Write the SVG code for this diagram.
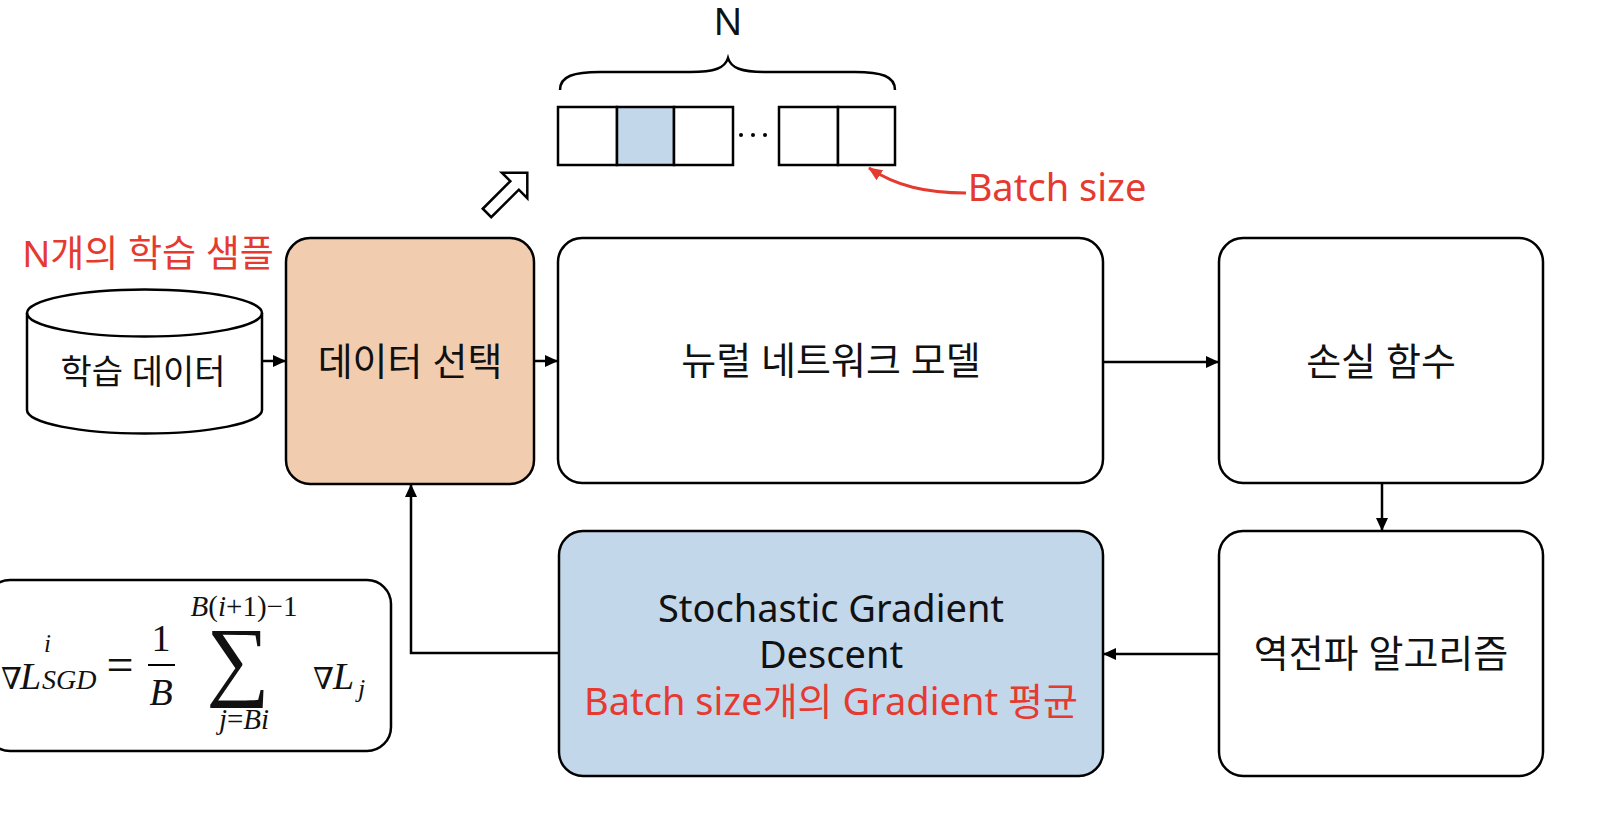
<svg xmlns="http://www.w3.org/2000/svg" width="1602" height="818" viewBox="0 0 1602 818">
<style>
.box{stroke:#000;stroke-width:2.5}
.cell{stroke:#000;stroke-width:2.5;fill:#fff}
.lbl{font-family:"Noto Sans","Noto Sans CJK KR",sans-serif;font-size:38px;text-anchor:middle;fill:#111}
.red{fill:#E53A30}
.conn{stroke:#000;stroke-width:2.5;fill:none}
.math{font-family:"Liberation Serif","DejaVu Serif",serif;fill:#111}
.it{font-style:italic}
</style>
<defs>
<marker id="ah" markerUnits="userSpaceOnUse" markerWidth="13" markerHeight="12" refX="13" refY="6" orient="auto">
<path d="M0,0 L13,6 L0,12 z" fill="#000"/>
</marker>
<marker id="ahr" markerUnits="userSpaceOnUse" markerWidth="14" markerHeight="12" refX="13" refY="6" orient="auto">
<path d="M0,0 L14,6 L0,12 z" fill="#E53A30"/>
</marker>
</defs>
<rect width="1602" height="818" fill="#fff"/>

<g id="batch-array">
<text class="lbl" x="728" y="35">N</text>
<path class="conn" d="M560,90 C560,76 574,72 600,72 L690,72 C715,72 725,68 728,58 C731,68 741,72 766,72 L855,72 C881,72 895,76 895,90"/>
<rect class="cell" x="558" y="107" width="59" height="58"/>
<rect class="cell" x="617" y="107" width="57" height="58" style="fill:#C3D7EB"/>
<rect class="cell" x="674" y="107" width="59" height="58"/>
<circle cx="741" cy="135" r="2" fill="#000"/>
<circle cx="753" cy="135" r="2" fill="#000"/>
<circle cx="765" cy="135" r="2" fill="#000"/>
<rect class="cell" x="779" y="107" width="59" height="58"/>
<rect class="cell" x="838" y="107" width="57" height="58"/>
<polygon points="0,-6 39,-6 39,-18 57,0 39,18 39,6 0,6" transform="translate(487,213) rotate(-45)" fill="#fff" stroke="#000" stroke-width="2.5" stroke-linejoin="miter"/>
<text class="lbl red" x="1057" y="201">Batch size</text>
</g>

<g id="training-data">
<text class="lbl red" x="148" y="267" style="font-size:37px">N개의 학습 샘플</text>
<path class="box" fill="#fff" d="M27,313 L27,410 A117.5,23.5 0 0 0 262,410 L262,313 A117.5,23.5 0 0 0 27,313 Z"/>
<path class="conn" d="M27,313 A117.5,23.5 0 0 0 262,313"/>
<text class="lbl" x="143" y="384" style="font-size:34px">학습 데이터</text>
</g>

<g id="data-select">
<rect class="box" x="286" y="238" width="248" height="246" rx="24" fill="#F1CCAF"/>
<text class="lbl" x="410" y="375">데이터 선택</text>
</g>

<g id="neural-net">
<rect class="box" x="558" y="238" width="545" height="245" rx="24" fill="#fff"/>
<text class="lbl" x="831" y="374">뉴럴 네트워크 모델</text>
</g>

<g id="loss">
<rect class="box" x="1219" y="238" width="324" height="245" rx="24" fill="#fff"/>
<text class="lbl" x="1381" y="375">손실 함수</text>
</g>

<g id="backprop">
<rect class="box" x="1219" y="531" width="324" height="245" rx="24" fill="#fff"/>
<text class="lbl" x="1381" y="667">역전파 알고리즘</text>
</g>

<g id="sgd">
<rect class="box" x="559" y="531" width="544" height="245" rx="24" fill="#C3D7EB"/>
<text class="lbl" x="831" y="622">Stochastic Gradient</text>
<text class="lbl" x="831" y="668">Descent</text>
<text class="lbl red" x="831" y="715">Batch size개의 Gradient 평균</text>
</g>

<g id="formula">
<rect class="box" x="-14" y="580" width="405" height="171" rx="24" fill="#fff"/>
<text class="math" x="1" y="689" style="font-size:30px">∇</text>
<text class="math it" x="20" y="689" style="font-size:38px">L</text>
<text class="math it" x="44" y="652" style="font-size:25px">i</text>
<text class="math it" x="42" y="689" style="font-size:28px">SGD</text>
<text class="math" x="120" y="681" style="font-size:48px" text-anchor="middle">=</text>
<text class="math" x="161" y="651" style="font-size:38px" text-anchor="middle">1</text>
<line x1="148" y1="665" x2="175" y2="665" stroke="#000" stroke-width="2"/>
<text class="math it" x="161" y="705" style="font-size:38px" text-anchor="middle">B</text>
<text class="math" x="238" y="689" style="font-size:89px" text-anchor="middle">∑</text>
<text class="math" x="244" y="616" style="font-size:29px" text-anchor="middle"><tspan class="it">B</tspan>(<tspan class="it">i</tspan>+1)−1</text>
<text class="math" x="244" y="729" style="font-size:29px" text-anchor="middle"><tspan class="it">j</tspan>=<tspan class="it">Bi</tspan></text>
<text class="math" x="313" y="689" style="font-size:30px">∇</text>
<text class="math it" x="333" y="689" style="font-size:38px">L</text>
<text class="math it" x="358" y="697" style="font-size:26px">j</text>
</g>

<g id="connectors">
<path class="conn" d="M262,361 L286,361" marker-end="url(#ah)"/>
<path class="conn" d="M534,361 L558,361" marker-end="url(#ah)"/>
<path class="conn" d="M1103,362 L1219,362" marker-end="url(#ah)"/>
<path class="conn" d="M1382,483 L1382,531" marker-end="url(#ah)"/>
<path class="conn" d="M1219,654 L1103,654" marker-end="url(#ah)"/>
<path class="conn" d="M559,653 L411,653 L411,484" marker-end="url(#ah)"/>
<path d="M966,193 C926,193 896,186 869,168" fill="none" stroke="#E53A30" stroke-width="3" marker-end="url(#ahr)"/>
</g>
</svg>
